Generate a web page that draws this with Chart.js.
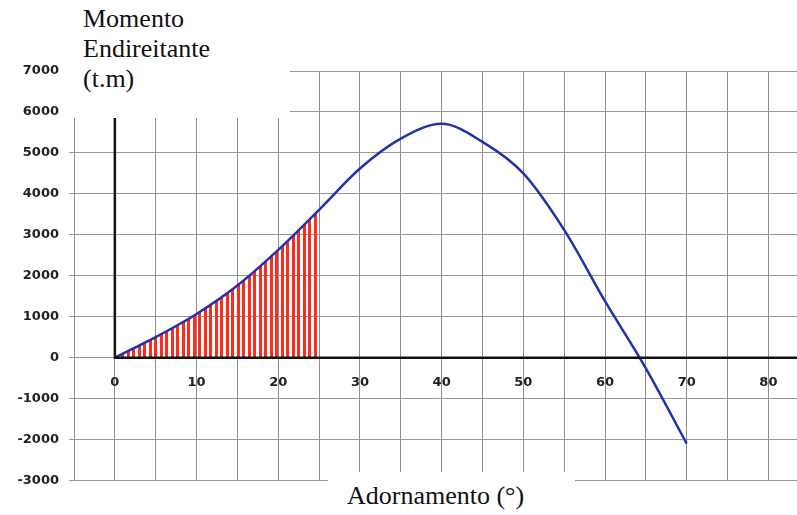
<!DOCTYPE html>
<html>
<head>
<meta charset="utf-8">
<script src="https://cdn.jsdelivr.net/npm/chart.js@4/dist/chart.umd.min.js"></script>
<style>
  html, body { margin: 0; padding: 0; background: #fff; }
  #wrap { position: relative; width: 797px; height: 515px; }
  .box { position: absolute; background: #fff; font-family: 'Liberation Serif', 'Times New Roman', Times, 'DejaVu Serif', serif; font-size: 26px; line-height: 30px; color: #111; }
  #ytitle { left: 64px; top: 0; width: 207px; height: 114px; padding: 4px 0 0 19px; }
  #xtitle { left: 328px; top: 472px; width: 228px; height: 34px; padding: 9px 0 0 19px; }
</style>
</head>
<body>
<div id="wrap">
  <canvas id="chart" width="797" height="515"></canvas>
  <div class="box" id="ytitle">Momento<br>Endireitante<br>(t.m)</div>
  <div class="box" id="xtitle">Adornamento (°)</div>
</div>
<script>
// dados
const degrees = [0, 5, 10, 15, 20, 25, 30, 35, 40, 45, 50, 55, 60, 65, 70];
const moments = [0, 500, 1065, 1760, 2630, 3610, 4620, 5350, 5710, 5270, 4500, 3120, 1380, -260, -2100];
const hatchedUpTo = 25;
const xTickLabels = [0, 10, 20, 30, 40, 50, 60, 70, 80];
const yTickLabels = [-3000, -2000, -1000, 0, 1000, 2000, 3000, 4000, 5000, 6000, 7000];

const curve = degrees.map((d, i) => ({ x: d, y: moments[i] }));
const hatched = curve.filter(p => p.x <= hatchedUpTo);

// padrão de listras vermelhas
const pc = document.createElement('canvas');
pc.width = 11; pc.height = 4;
const pctx = pc.getContext('2d');
pctx.fillStyle = 'rgb(250,45,30)';
pctx.fillRect(0, 0, 3, 4);
pctx.fillRect(6, 0, 3, 4);
const stripes = document.getElementById('chart').getContext('2d').createPattern(pc, 'repeat');

// eixos pretos em x=0 e y=0
const axisLines = {
  id: 'axisLines',
  afterDatasetsDraw(chart) {
    const { ctx, scales: { x, y }, chartArea } = chart;
    const x0 = x.getPixelForValue(0), y0 = y.getPixelForValue(0);
    ctx.save();
    ctx.strokeStyle = '#111';
    ctx.lineWidth = 2.5;
    ctx.beginPath();
    ctx.moveTo(x0, chartArea.top);
    ctx.lineTo(x0, y0);
    ctx.lineTo(chartArea.right, y0);
    ctx.stroke();
    ctx.restore();
  }
};

new Chart(document.getElementById('chart'), {
  type: 'line',
  data: {
    datasets: [
      {
        data: curve,
        borderColor: 'rgb(35,50,170)',
        borderWidth: 2.5,
        pointRadius: 0,
        cubicInterpolationMode: 'monotone',
        fill: false
      },
      {
        data: hatched,
        borderWidth: 0,
        borderColor: 'rgba(0,0,0,0)',
        pointRadius: 0,
        cubicInterpolationMode: 'monotone',
        fill: 'origin',
        backgroundColor: stripes
      }
    ]
  },
  options: {
    responsive: false,
    animation: false,
    devicePixelRatio: 1,
    layout: { padding: { top: 71, bottom: 34.5, left: 0, right: 0 } },
    plugins: { legend: { display: false }, tooltip: { enabled: false } },
    scales: {
      x: {
        type: 'linear',
        position: { y: 0 },
        min: -5,
        max: 83.5,
        afterBuildTicks: s => { s.ticks = s.ticks.filter(t => t.value % 5 === 0); },
        afterFit: s => { s.height = 0; },
        border: { display: false },
        grid: { color: '#8e8e8e', lineWidth: 1, drawTicks: false },
        ticks: {
          stepSize: 5,
          includeBounds: false,
          autoSkip: false,
          maxRotation: 0,
          padding: 17,
          color: '#222',
          font: { family: 'DejaVu Sans', weight: 'bold', size: 13 },
          callback: v => xTickLabels.includes(v) ? String(v) : ''
        }
      },
      y: {
        type: 'linear',
        min: yTickLabels[0],
        max: yTickLabels[yTickLabels.length - 1],
        afterFit: s => { s.width = 74; },
        border: { display: false },
        grid: { color: '#999', lineWidth: 1, tickLength: 5 },
        ticks: {
          stepSize: 1000,
          padding: 10,
          color: '#222',
          font: { family: 'DejaVu Sans', weight: 'bold', size: 13 },
          callback: v => yTickLabels.includes(v) ? String(v) : ''
        }
      }
    }
  },
  plugins: [axisLines]
});
</script>
</body>
</html>
